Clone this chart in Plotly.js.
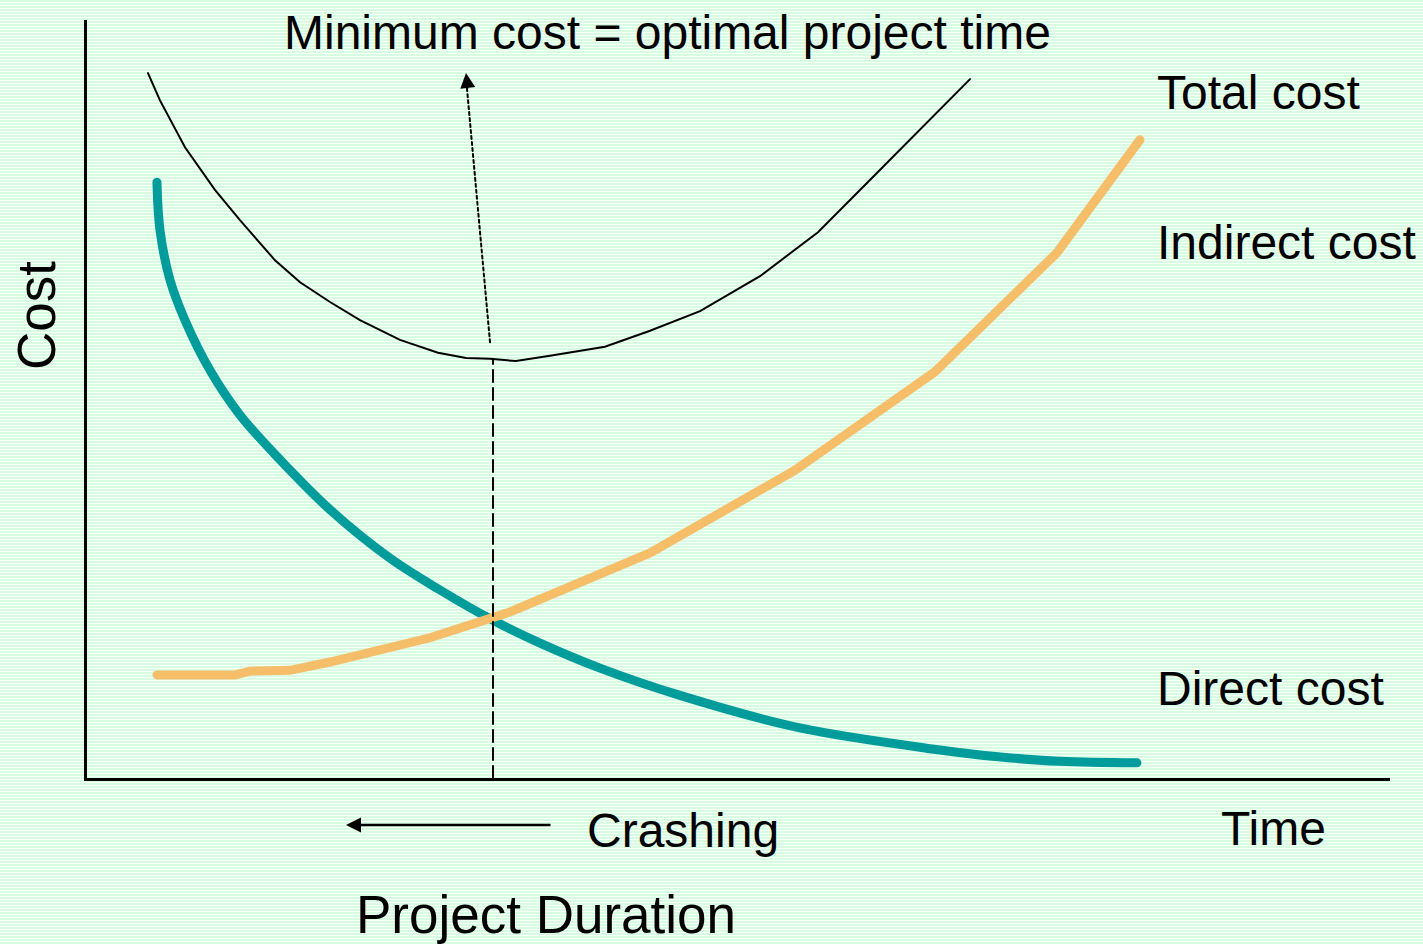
<!DOCTYPE html>
<html>
<head>
<meta charset="utf-8">
<script src="https://cdn.plot.ly/plotly-3.0.1.min.js"></script>
<style>
  html, body { margin: 0; padding: 0; }
  body {
    width: 1423px; height: 944px; overflow: hidden;
    background: repeating-linear-gradient(to bottom, #d8fce2 0px, #d8fce2 2px, #f6fff8 2px, #f6fff8 3px);
  }
  #chart { width: 1423px; height: 944px; }
  .scatterlayer path.js-line { stroke-linecap: round; }
</style>
</head>
<body>
<div id="chart"></div>
<script>
// ---- Data (arbitrary units 0-100) ----
var directTime  = [5.37, 5.60, 6.37, 7.52, 9.44, 11.74, 14.81, 18.65, 23.25, 27.09, 31.16, 34.77, 39.37, 45.51, 54.72, 65.46, 69.92, 74.67, 80.58];
var directCost  = [78.6, 72.3, 65.7, 60.4, 53.8, 47.9, 42.0, 35.4, 29.0, 24.8, 20.8, 17.8, 14.5, 10.9, 6.6, 3.7, 2.8, 2.2, 2.0];

var indirectTime = [5.37, 11.36, 12.51, 15.58, 18.65, 26.32, 32.46, 43.21, 54.34, 65.08, 74.44, 80.81];
var indirectCost = [13.6, 13.6, 14.1, 14.2, 15.3, 18.5, 21.9, 29.7, 40.6, 53.6, 69.3, 84.2];

var totalTime = [4.68, 5.60, 7.52, 9.82, 11.74, 14.43, 16.35, 18.65, 20.95, 24.02, 26.94, 29.09, 30.93, 32.92, 35.53, 39.75, 43.21, 47.05, 51.65, 56.10, 60.09, 63.93, 67.77];
var totalCost = [93.0, 89.4, 83.2, 77.6, 73.6, 68.3, 65.4, 62.8, 60.4, 57.8, 56.1, 55.4, 55.3, 55.0, 55.7, 56.9, 59.0, 61.6, 66.2, 72.0, 78.9, 85.5, 92.2];

var optimalTime = [31.16, 31.16];
var optimalCost = [0, 55.3];

var pointerTime = [30.93, 29.16];
var pointerCost = [57.5, 91.0];

var labels = {
  top: "Minimum cost = optimal project time",
  total: "Total cost",
  indirect: "Indirect cost",
  direct: "Direct cost",
  time: "Time",
  crashing: "Crashing",
  xTitle: "Project Duration",
  yTitle: "Cost"
};

// ---- Layout helpers (page pixel -> paper fraction) ----
var L = 87, R = 1390, T = 20, B = 778;
function px(x) { return (x - L) / (R - L); }
function py(y) { return (B - y) / (B - T); }

var font = "Arial, 'Liberation Sans', sans-serif";

var traces = [
  { x: directTime, y: directCost, mode: "lines", line: { color: "#009b9b", width: 9, shape: "spline", smoothing: 1.0 }, hoverinfo: "skip" },
  { x: indirectTime, y: indirectCost, mode: "lines", line: { color: "#f6be69", width: 9 }, hoverinfo: "skip" },
  { x: totalTime, y: totalCost, mode: "lines", line: { color: "#000000", width: 2 }, hoverinfo: "skip" },
  { x: optimalTime, y: optimalCost, mode: "lines", line: { color: "#000000", width: 2, dash: "12px,6px" }, hoverinfo: "skip" },
  { x: pointerTime, y: pointerCost, mode: "lines", line: { color: "#000000", width: 2, dash: "dot" }, hoverinfo: "skip" }
];

function txt(text, x, y, size, extra) {
  var a = { xref: "paper", yref: "paper", x: px(x), y: py(y), text: text, showarrow: false,
            xanchor: "left", yanchor: "middle", font: { family: font, size: size, color: "#000" } };
  for (var k in extra) a[k] = extra[k];
  return a;
}

var annotations = [
  txt(labels.top, 667, 32, 48, { xanchor: "center" }),
  txt(labels.total, 1155, 93, 48),
  txt(labels.indirect, 1155, 242, 48),
  txt(labels.direct, 1155, 688, 48),
  txt(labels.time, 1219, 828, 48),
  txt(labels.crashing, 585, 830, 48),
  txt(labels.xTitle, 546, 914, 53, { xanchor: "center" }),
  txt(labels.yTitle, 37, 316, 53, { xanchor: "center", textangle: -90 }),
  // arrowheads
  { xref: "paper", yref: "paper", x: px(466), y: py(73), ax: 2, ay: 17, text: "", showarrow: true,
    arrowhead: 2, arrowsize: 2, arrowwidth: 1.5, arrowcolor: "#000", standoff: 0 },
  { xref: "paper", yref: "paper", x: px(346), y: py(825), ax: 206, ay: 0, text: "", showarrow: true,
    arrowhead: 2, arrowsize: 1.2, arrowwidth: 2.5, arrowcolor: "#000", standoff: 0 }
];

var layout = {
  width: 1423, height: 944,
  margin: { l: L, r: 1423 - R, t: T, b: 944 - B, pad: 0 },
  paper_bgcolor: "rgba(0,0,0,0)",
  plot_bgcolor: "rgba(0,0,0,0)",
  showlegend: false,
  xaxis: { range: [0, 100], showline: true, linewidth: 3, linecolor: "#000", showgrid: false,
           zeroline: false, showticklabels: false, ticks: "", fixedrange: true },
  yaxis: { range: [0, 100], showline: true, linewidth: 3, linecolor: "#000", showgrid: false,
           zeroline: false, showticklabels: false, ticks: "", fixedrange: true },
  annotations: annotations
};

Plotly.newPlot("chart", traces, layout, { displayModeBar: false, staticPlot: true });
</script>
</body>
</html>
